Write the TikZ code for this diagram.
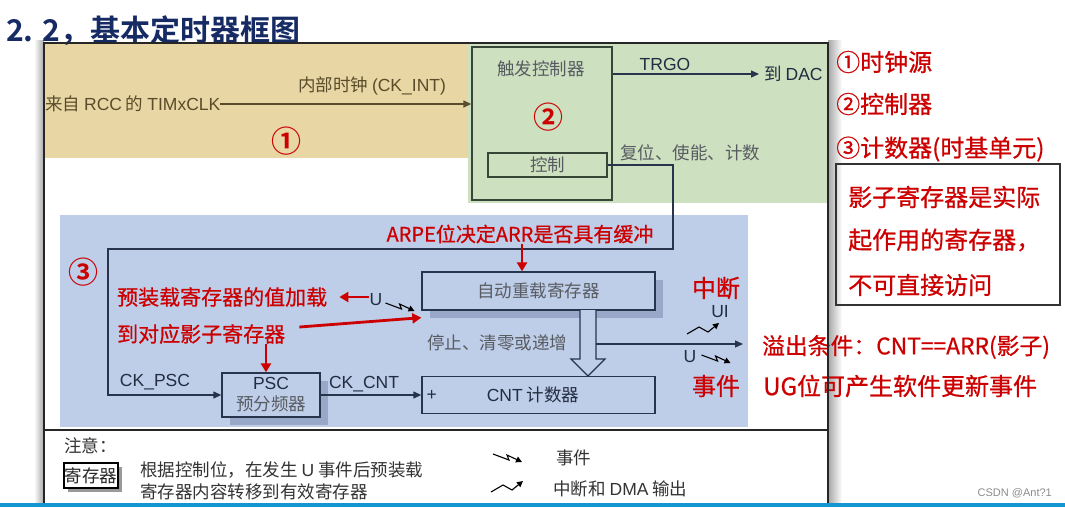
\documentclass[tikz,border=0pt]{standalone}
\usepackage{fontspec}
\setmainfont{Noto Sans CJK SC}
\newfontfamily\arial{Liberation Sans}
\newfontfamily\titlefont{Noto Sans CJK SC Bold}
\newfontfamily\notefont{Noto Sans CJK SC}[FakeBold=0.7]
\usetikzlibrary{arrows.meta,positioning,shadows}

\definecolor{tanbg}{RGB}{232,214,165}
\definecolor{greenbg}{RGB}{205,224,191}
\definecolor{bluebg}{RGB}{190,205,232}
\definecolor{boxshadow}{RGB}{152,168,200}
\definecolor{inkblue}{RGB}{40,52,75}
\definecolor{inkgreen}{RGB}{55,70,55}
\definecolor{inktan}{RGB}{90,76,42}
\definecolor{inkgray}{RGB}{88,92,98}
\definecolor{inkdark}{RGB}{35,45,65}
\definecolor{notered}{RGB}{204,0,0}
\definecolor{titleblue}{RGB}{22,42,100}
\definecolor{slideline}{RGB}{20,150,210}

\newcommand\fsz[1]{\fontsize{#1}{#1}\selectfont}

\begin{document}
\begin{tikzpicture}
  [x=1pt,y=-1pt,every node/.style={inner sep=0pt},
   evt/.pic={\draw[line width=1.1pt,-{Triangle[length=6pt,width=6pt]}] (0,0) -- (16,6) -- (14,1) -- (29,8);},
   irq/.pic={\draw[line width=1.1pt,-{Triangle[length=6pt,width=6pt]}] (0,0) -- (12,-7) -- (21,-2) -- (32,-11);}]
  \tikzstyle{gray text} = [text=inkgray,font=\fsz{17.5}]
  \tikzstyle{dark text} = [text=inkdark,font=\arial\fsz{17.5}]
  \tikzstyle{red note} = [text=notered,font=\notefont\fsz{24}]
  \tikzstyle{circled} = [text=notered,font=\titlefont\fsz{30}]
  \tikzstyle{regbox} = [draw=inkblue,line width=1.3pt,fill=bluebg]
  \tikzstyle{wire} = [draw=inkblue,line width=1.2pt,-{Triangle[length=8pt,width=7pt]}]
  \tikzstyle{red arrow} = [draw=notered,line width=2.8pt,-{Triangle[length=9pt,width=10pt]}]
  \tikzstyle{sh} = [drop shadow={shadow xshift=8pt,shadow yshift=-8pt,fill=boxshadow,opacity=1}]

  \useasboundingbox (0,0) rectangle (1065,507);
  \fill[white] (0,0) rectangle (1065,507);
  \shade[left color=white,right color=black!35] (34,40) rectangle (44,503);
  \shade[left color=black!35,right color=white] (828,40) rectangle (842,503);

  % regions
  \fill[tanbg] (44,43) rectangle (470,158);
  \fill[greenbg] (468,43) rectangle (828,203);
  \fill[bluebg] (60,215) rectangle (748,427);

  \node[anchor=base west,text=titleblue,font=\titlefont\fsz{30}] (title) at (6,41) {2. 2，基本定时器框图};

  % clock source
  \node[anchor=west,text=inktan,font=\fsz{17.5}] (clk) at (45,104) {来自 {\arial RCC} 的 {\arial TIMxCLK}};
  \node[text=inktan,font=\fsz{17.5}] (ckint) at (372,86) {内部时钟 {\arial (CK\_INT)}};
  \node[circled] (c1) at (286,141) {①};

  % controller
  \node[draw=inkgreen,line width=1.3pt,minimum width=140pt,minimum height=153pt] (tc) at (542,123.5) {};
  \node[gray text] (tctext) at (541,69) {触发控制器};
  \node[circled] (c2) at (548,117) {②};
  \node[draw=inkgreen,line width=1.3pt,minimum width=119pt,minimum height=24pt,gray text] (ctl) at (547.5,165) {控制};
  \node[dark text] (trgo) at (665,64) {TRGO};
  \node[anchor=west,text=inkdark,font=\fsz{17.5}] (dac) at (764,74) {到 {\arial DAC}};
  \node[gray text] (rst) at (690,153) {复位、使能、计数};

  % time base
  \node[regbox,sh,minimum width=233pt,minimum height=38pt,gray text] (arr) at (538.5,291) {自动重载寄存器};
  \node[regbox,minimum width=233pt,minimum height=37pt] (cnt) at (538.5,395) {};
  \node[text=inkdark,font=\fsz{17.5}] (cnttext) at (533,395) {{\arial CNT} 计数器};
  \node[dark text,anchor=west] (plus) at ([xshift=5pt]cnt.west) {+};
  \node[regbox,sh,minimum width=98pt,minimum height=44pt,align=center,font=\fontsize{17.5}{21}\selectfont] (psc) at (271,395)
    {{\arial\color{inkdark}PSC}\\{\color{inkgray}预分频器}};
  \draw[draw=inkblue,line width=1.2pt,fill=bluebg] (580,310) -- (580,359) -- (571,359) -- (588,376) -- (605,359) -- (596,359) -- (596,310);
  \node[gray text] (stopclr) at (497,343) {停止、清零或递增};
  \node[dark text] (ckpsc) at (155,382) {CK\_PSC};
  \node[dark text] (ckcnt) at (364,384) {CK\_CNT};
  \node[dark text] (uin) at (376,300) {U};
  \node[dark text] (ui) at (720,312) {UI};
  \node[dark text] (uout) at (690,357) {U};
  \node[circled] (c3) at (83,272) {③};

  \coordinate (rs) at (673,249);
  \coordinate (lc) at (108,395);
  \coordinate (tap) at (596,344);
  \coordinate (ovf) at (743,344);

  \draw[draw=inktan,line width=1.3pt,-{Triangle[length=8pt,width=7pt]}] (clk.east) -- (clk.east -| tc.west);
  \draw[wire] (tc.east |- dac.west) -- ([xshift=-5pt]dac.west);
  \draw[wire] (ctl.east) -| (rs) -| (lc) -- (psc.west);
  \draw[wire] (psc.east) -- (cnt.west);
  \draw[wire] (tap) -- (ovf);
  \pic at ([xshift=3pt,yshift=-3pt]uin.east) {evt};
  \pic at (687,334) {irq};
  \pic at ([xshift=5pt,yshift=2pt]uout.east) {evt};

  % red notes
  \node[text=notered,font=\notefont\fsz{20}] (arpe) at (520,234) {ARPE位决定ARR是否具有缓冲};
  \node[text=notered,font=\notefont\fsz{21},anchor=west] (pre1) at (117,297) {预装载寄存器的值加载};
  \node[text=notered,font=\notefont\fsz{21},anchor=west] (pre2) at (117,334) {到对应影子寄存器};
  \draw[red arrow] ([xshift=-16.5pt]arr.north |- arpe.south) -- ([xshift=-16.5pt]arr.north);
  \draw[red arrow] (uin.west |- pre1.east) -- ([xshift=12pt]pre1.east);
  \draw[red arrow] ([xshift=14pt,yshift=7pt]pre2.east) -- ([yshift=-7pt]arr.south west);
  \draw[red arrow] ([xshift=-5pt]psc.north |- pre2.south) -- ([xshift=-5pt]psc.north);
  \node[red note] (irqlbl) at (716,288) {中断};
  \node[red note] (evtlbl) at (716,386) {事件};

  \foreach \yy/\txt in {62/①时钟源,104/②控制器,149/③计数器(时基单元)}
    \node[red note,anchor=west] (part\yy) at (836,\yy) {\txt};
  \node[draw=black!80,line width=1.3pt,minimum width=224pt,minimum height=141pt] (shbox) at (948,234.5) {};
  \foreach \yy/\txt in {197/影子寄存器是实际,240/起作用的寄存器，,285/不可直接访问}
    \node[red note,anchor=west] (shadow\yy) at (848,\yy) {\txt};
  \node[red note,anchor=west,font=\notefont\fsz{22.8}] (ovfcond) at (762,347) {溢出条件：CNT==ARR(影子)};
  \node[red note,anchor=west] (ugbit) at (763,386) {UG位可产生软件更新事件};

  % frame
  \draw[line width=1.3pt,draw=black!85] (44,503) -- (44,43) -- (828,43) -- (828,503);
  \draw[line width=1.3pt,draw=black!85] (44,430) -- (828,430);

  % legend
  \node[anchor=west,text=black!80,font=\fsz{17.5}] (notice) at (64,446) {注意：};
  \node[draw=black,line width=1.3pt,fill=white,drop shadow={shadow xshift=4pt,shadow yshift=-4pt,fill=black!40,opacity=1},
    minimum width=54pt,minimum height=25pt,text=black!85,font=\fsz{17.5}] (regkey) at (91,475.5) {寄存器};
  \node[anchor=west,text=black!80,font=\fsz{17.5}] (desc1) at (140,470) {根据控制位，在发生 {\arial U} 事件后预装载};
  \node[anchor=west,text=black!80,font=\fsz{17.5}] (desc2) at (140,492) {寄存器内容转移到有效寄存器};
  \pic at (493,454) {evt};
  \node[anchor=west,text=black!80,font=\fsz{17.5}] (keyevt) at (556,458) {事件};
  \pic at (491,492) {irq};
  \node[anchor=west,text=black!80,font=\fsz{17.5}] (keyirq) at (553,489) {中断和 {\arial DMA} 输出};
  \node[anchor=east,text=black!45,font=\arial\fsz{11}] (wm) at (1052,493) {CSDN @Ant?1};

  \fill[slideline] (0,503) rectangle (1065,507);
\end{tikzpicture}
\end{document}
